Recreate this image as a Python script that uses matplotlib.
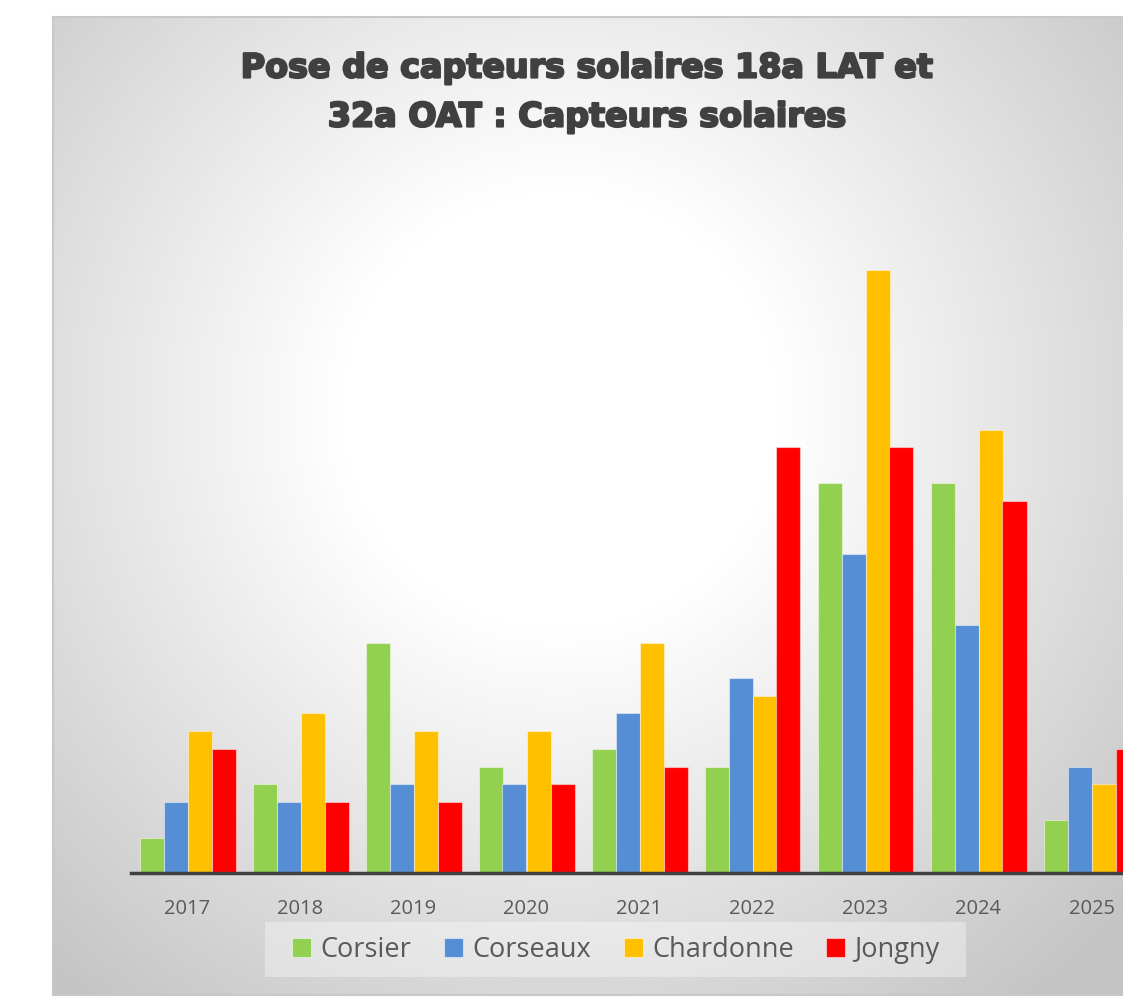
import numpy as np
import matplotlib
matplotlib.use("Agg")
import matplotlib.pyplot as plt
from matplotlib.patches import Patch, Rectangle
import matplotlib.patheffects as pe

years = ["2017", "2018", "2019", "2020", "2021", "2022", "2023", "2024", "2025"]
corsier = [2, 5, 13, 6, 7, 6, 22, 22, 3]
corseaux = [4, 4, 5, 5, 9, 11, 18, 14, 6]
chardonne = [8, 9, 8, 8, 13, 10, 34, 25, 5]
jongny = [7, 4, 4, 5, 6, 24, 24, 21, 7]
series_names = ["Corsier", "Corseaux", "Chardonne", "Jongny"]
colors = ["#92D050", "#558ED5", "#FFC000", "#FF0000"]

W, H = 1123, 1001
fig = plt.figure(figsize=(W / 100, H / 100), dpi=100)
fig.patch.set_facecolor("white")

# background panel with radial gradient
px0, py0, px1, py1 = 53, 17, 1140, 995
bg = fig.add_axes([px0 / W, 1 - py1 / H, (px1 - px0) / W, (py1 - py0) / H])
nx, ny = 400, 400
xs = np.linspace(px0, px1, nx)
ys = np.linspace(py0, py1, ny)
X, Y = np.meshgrid(xs, ys)
cx, cy = 560, 410
r = np.sqrt((X - cx) ** 2 + (Y - cy) ** 2)
t = np.clip((r - 220) / 540, 0, 1)
val = 1.0 - t * (1.0 - 0.77)
img = np.dstack([val, val, val])
bg.imshow(img, extent=[0, 1, 0, 1], aspect="auto", origin="upper", zorder=0)
bg.set_xlim(0, 1)
bg.set_ylim(0, 1)
bg.set_xticks([])
bg.set_yticks([])
for s in bg.spines.values():
    s.set_color("#c8c8c8")
    s.set_linewidth(1.5)

# legend background box
fig.patches.append(Rectangle((265 / W, 1 - 977 / H), (966 - 265) / W, (977 - 922) / H,
                             transform=fig.transFigure, facecolor=(1, 1, 1, 0.35),
                             edgecolor="none", zorder=1))

# main axes
unit = 17.73
ymax = 40
ax_left, ax_right = 131, 131 + 9 * 113
base = 873
top = base - ymax * unit
ax = fig.add_axes([ax_left / W, 1 - base / H, (ax_right - ax_left) / W, (base - top) / H])
ax.patch.set_alpha(0)
x = np.arange(len(years))
bw = 24 / 113
data = [corsier, corseaux, chardonne, jongny]
for i, (vals, col) in enumerate(zip(data, colors)):
    ax.bar(x + (i - 1.5) * bw, vals, width=bw, color=col, edgecolor=(1, 1, 1, 0.45),
           linewidth=0.8, zorder=2)
ax.set_xlim(-0.5, len(years) - 0.5)
ax.set_ylim(0, ymax)
ax.set_yticks([])
ax.set_xticks(x)
ax.set_xticklabels(years, fontsize=14.5, color="#595959", family="Open Sans")
ax.tick_params(axis="x", length=0, pad=19)
for k in ["top", "right", "left"]:
    ax.spines[k].set_visible(False)
ax.spines["bottom"].set_color("#404040")
ax.spines["bottom"].set_linewidth(2.5)
ax.spines["bottom"].set_zorder(3)

# title
for txt, yy in [("Pose de capteurs solaires 18a LAT et", 68), ("32a OAT : Capteurs solaires", 117)]:
    t_ = fig.text(587 / W, 1 - yy / H, txt,
                  ha="center", va="center", fontsize=24, fontweight="bold",
                  family="DejaVu Sans", color="#404040")
    t_.set_path_effects([pe.withStroke(linewidth=1.6, foreground="#404040")])

# legend
handles = [Patch(facecolor=c, edgecolor=(1, 1, 1, 0.5), linewidth=0.8) for c in colors]
leg = fig.legend(handles, series_names, loc="center", bbox_to_anchor=(616 / W, 1 - 950 / H),
                 ncol=4, frameon=False, handlelength=0.7, handleheight=0.75,
                 handletextpad=0.35, columnspacing=1.2, borderpad=0.45,
                 prop={"family": "Open Sans", "size": 19.5})
for txt in leg.get_texts():
    txt.set_color("#595959")

fig.savefig("out.png", dpi=100, facecolor="white")
